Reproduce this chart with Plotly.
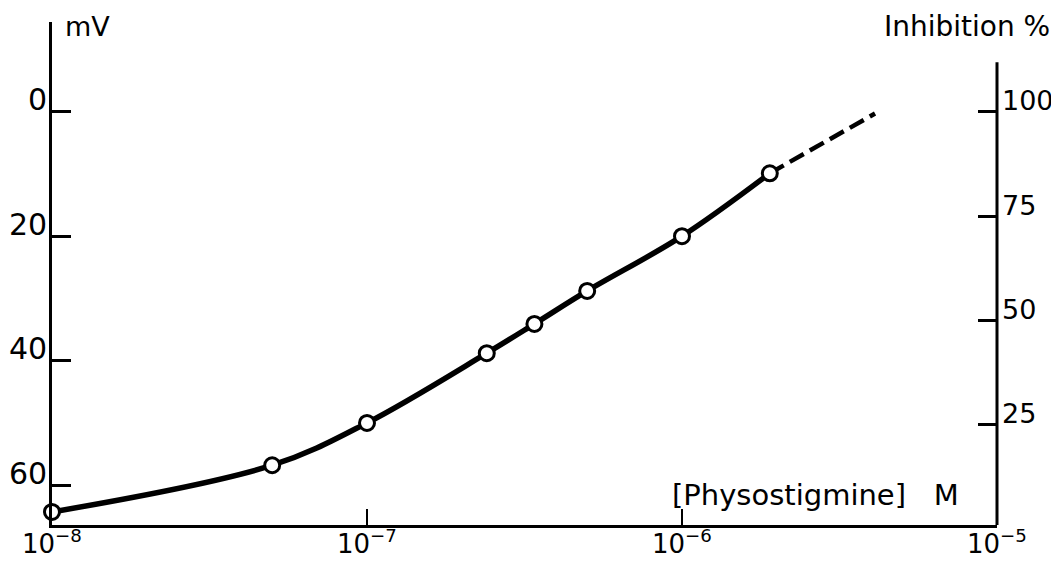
import math
import plotly.graph_objects as go

# Data
conc = [1e-8, 5e-8, 1e-7, 2.4e-7, 3.4e-7, 5e-7, 1e-6, 1.9e-6]
mv = [64.3, 56.8, 50.0, 38.8, 34.1, 28.8, 20.0, 9.9]
conc_ext = [1.9e-6, 4.1e-6]
mv_ext = [9.9, 0.3]

mv_ticks = [0, 20, 40, 60]
inh_ticks = [25, 50, 75, 100]
x_ticks = [1e-8, 1e-7, 1e-6, 1e-5]
x_ticktext = ["10<sup>\u22128</sup>", "10<sup>\u22127</sup>", "10<sup>\u22126</sup>", "10<sup>\u22125</sup>"]

FONT = "DejaVu Sans, Liberation Sans, sans-serif"

fig = go.Figure()
fig.add_trace(go.Scatter(x=conc_ext, y=mv_ext, mode="lines",
                         line=dict(color="black", width=4.5, dash="16px,7px"),
                         showlegend=False, hoverinfo="skip"))
fig.add_trace(go.Scatter(x=conc, y=mv, mode="lines",
                         line=dict(color="black", width=5.5, shape="spline", smoothing=1.0),
                         showlegend=False))
fig.add_trace(go.Scatter(x=conc, y=mv, mode="markers",
                         marker=dict(symbol="circle", size=15, color="white",
                                     line=dict(color="black", width=3)),
                         showlegend=False, cliponaxis=False))
# invisible trace to activate the right axis
fig.add_trace(go.Scatter(x=[1e-8], y=[50], yaxis="y2", mode="markers",
                         marker=dict(opacity=0), showlegend=False, hoverinfo="skip"))

# The page body adds an 8px offset; figure sized/margined to compensate
fig.update_layout(
    width=1051, height=554,
    margin=dict(l=44, r=62, t=14, b=37),
    paper_bgcolor="white", plot_bgcolor="white",
    font=dict(family=FONT, size=29, color="black"),
    xaxis=dict(type="log", range=[-8, -5], tickvals=x_ticks, showticklabels=False,
               showline=True, linewidth=3, linecolor="black", mirror=False,
               ticks="inside", ticklen=16, tickwidth=2, tickcolor="black",
               showgrid=False, zeroline=False, automargin=False),
    yaxis=dict(range=[66.4, -14.4], tickvals=mv_ticks, showticklabels=False,
               showline=True, linewidth=3, linecolor="black", mirror=False,
               ticks="inside", ticklen=19, tickwidth=3, tickcolor="black",
               showgrid=False, zeroline=False, automargin=False),
    yaxis2=dict(overlaying="y", side="right", range=[1.0, 121.5], tickvals=inh_ticks,
                showticklabels=False, showline=False,
                ticks="inside", ticklen=19, tickwidth=3, tickcolor="black",
                showgrid=False, zeroline=False, automargin=False),
)

# right axis line (shorter than plot height, as in the original)
fig.add_shape(type="line", xref="paper", yref="paper", x0=1, x1=1, y0=0, y1=0.92,
              line=dict(color="black", width=3))

# tick labels sit slightly above their ticks in the original
for v in mv_ticks:
    fig.add_annotation(text=str(v), xref="paper", yref="y", x=0, y=v,
                       xanchor="right", yanchor="middle", xshift=-3, yshift=12,
                       showarrow=False, font=dict(size=30))
for v in inh_ticks:
    fig.add_annotation(text=str(v), xref="paper", yref="y2", x=1, y=v,
                       xanchor="left", yanchor="middle", xshift=3, yshift=11,
                       showarrow=False, font=dict(size=27))
for v, t in zip(x_ticks, x_ticktext):
    fig.add_annotation(text=t, xref="x", yref="paper", x=math.log10(v), y=0,
                       xanchor="center", yanchor="top", yshift=1, borderpad=0,
                       showarrow=False, font=dict(size=26))

fig.add_annotation(text="mV", xref="paper", yref="paper", x=0.0116, y=1.026,
                   xanchor="left", yanchor="top", showarrow=False,
                   font=dict(size=27))
fig.add_annotation(text="Inhibition %", xref="paper", yref="paper", x=0.878, y=0.992,
                   xanchor="left", yanchor="middle", showarrow=False,
                   font=dict(size=28))
fig.add_annotation(text="[Physostigmine]\u00a0\u00a0\u00a0M", xref="paper", yref="paper",
                   x=0.654, y=0.06, xanchor="left", yanchor="middle", showarrow=False,
                   font=dict(size=29))

fig.write_html("out.html")
